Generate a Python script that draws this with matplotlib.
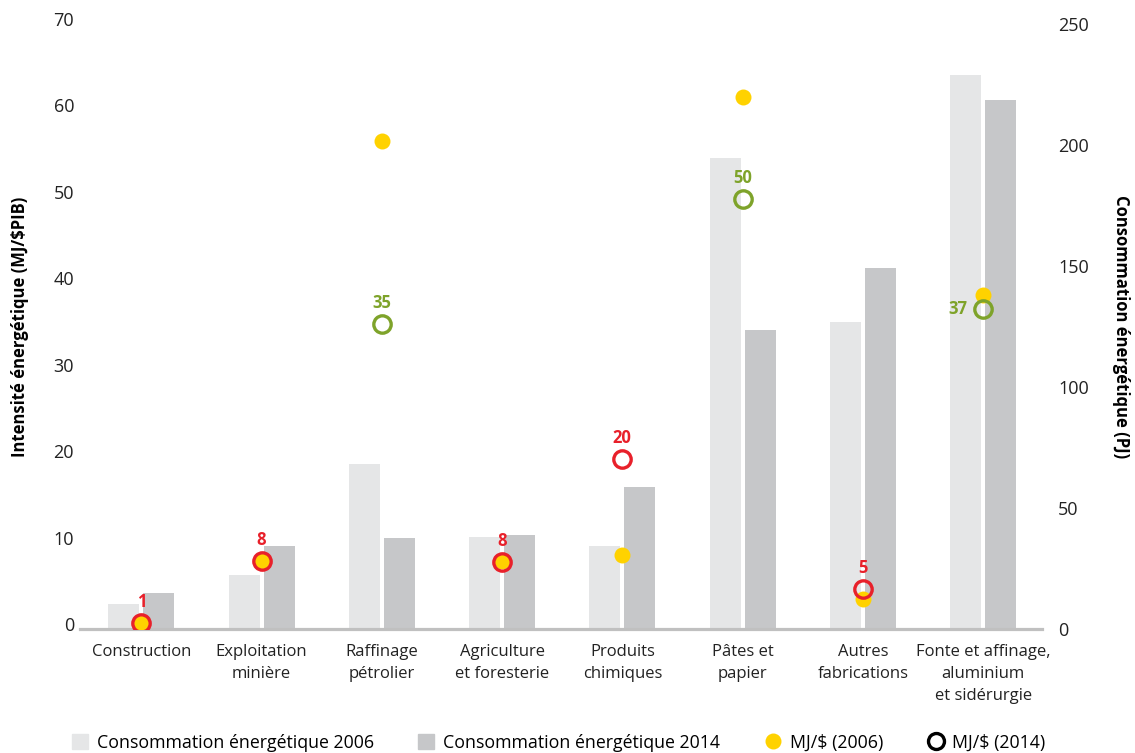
import matplotlib
matplotlib.use("Agg")
import matplotlib.pyplot as plt
import matplotlib.transforms as mtransforms
import numpy as np
from matplotlib.lines import Line2D
from matplotlib.patches import Patch

plt.rcParams['font.family'] = ['Open Sans', 'DejaVu Sans']

categories = ["Construction", "Exploitation\nminière", "Raffinage\npétrolier",
              "Agriculture\net foresterie", "Produits\nchimiques", "Pâtes et\npapier",
              "Autres\nfabrications", "Fonte et affinage,\naluminium\net sidérurgie"]
conso_2006 = [10.3, 22.4, 68.2, 38.0, 34.3, 194.6, 126.9, 228.9]
conso_2014 = [14.9, 34.3, 37.6, 38.8, 58.7, 123.6, 149.2, 218.6]
mj_2006 = [0.66, 7.9, 56.5, 7.9, 8.6, 61.6, 3.5, 38.6]
mj_2014 = [0.66, 7.9, 35.3, 7.75, 19.7, 49.8, 4.6, 37.0]
mj_2014_labels = ["1", "8", "35", "8", "20", "50", "5", "37"]
label_color = ["red", "red", "green", "red", "red", "green", "red", "green"]

C06 = "#e5e6e7"
C14 = "#c6c7c9"
YEL = "#ffd200"
RED = "#e8202a"
GRN = "#7ea32a"
cmap = {"red": RED, "green": GRN}

fig = plt.figure(figsize=(11.35, 7.53), dpi=100)
ax = fig.add_axes([80 / 1135, 1 - 629 / 753, 962 / 1135, 605 / 753])
ax2 = ax.twinx()

x = np.arange(len(categories))
w = 0.258
gap = 0.017
ax2.bar(x - w / 2 - gap, conso_2006, width=w, color=C06, zorder=1)
ax2.bar(x + w / 2 + gap, conso_2014, width=w, color=C14, zorder=1)
ax2.set_ylim(0, 250)
ax2.set_yticks([0, 50, 100, 150, 200, 250])

# points above bars
ax.set_zorder(ax2.get_zorder() + 1)
ax.patch.set_visible(False)

ax.plot(x, mj_2006, 'o', color=YEL, markersize=11.5, markeredgewidth=0, zorder=3)
for xi, v, lab, c in zip(x, mj_2014, mj_2014_labels, label_color):
    col = cmap[c]
    ax.plot(xi, v, 'o', markerfacecolor='none', markeredgecolor=col,
            markersize=12.5, markeredgewidth=2.4, zorder=4)
    if lab == "37":
        ax.annotate(lab, (xi, v), xytext=(-11.5, 0), textcoords='offset points',
                    ha='right', va='center', color=col, fontsize=12, fontweight='bold')
    else:
        ax.annotate(lab, (xi, v), xytext=(0, 15), textcoords='offset points',
                    ha='center', va='center', color=col, fontsize=12, fontweight='bold')

ax.set_ylim(0, 70)
ax.set_yticks(range(0, 71, 10))
ax.set_xlim(-0.51, 7.49)
ax.set_xticks(x)
ax.set_xticklabels(categories, fontsize=12, color="#222222", linespacing=1.5)

for a in (ax, ax2):
    for s in a.spines.values():
        s.set_visible(False)
    a.tick_params(axis='both', length=0, labelsize=13, colors="#222222")
ax.tick_params(axis='x', labelsize=12, pad=10.5)
ax.spines['bottom'].set_visible(True)
ax.spines['bottom'].set_color("#c0c0c0")
ax.spines['bottom'].set_linewidth(2.3)
ax.tick_params(axis='y', pad=4.3)
ax2.tick_params(axis='y', pad=11.5)

# left tick labels sit a few pixels higher in the reference
offset = mtransforms.ScaledTranslation(0, 5 / 100, fig.dpi_scale_trans)
for lab in ax.get_yticklabels():
    lab.set_transform(lab.get_transform() + offset)

ax.set_ylabel("Intensité énergétique (MJ/$PIB)", fontsize=12, fontweight='bold')
ax.yaxis.set_label_coords(-0.053, 0.5)
ax2.set_ylabel("Consommation énergétique (PJ)", fontsize=12, fontweight='bold',
               rotation=270, va='center')
ax2.yaxis.set_label_coords(1.082, 0.5)

handles = [Patch(color=C06), Patch(color=C14),
           Line2D([], [], marker='o', linestyle='none', color=YEL, markersize=11.5, markeredgewidth=0),
           Line2D([], [], marker='o', linestyle='none', markerfacecolor='none',
                  markeredgecolor='black', markersize=11.5, markeredgewidth=2.4)]
labels = ["Consommation énergétique 2006", "Consommation énergétique 2014",
          "MJ/$ (2006)", "MJ/$ (2014)"]
fig.legend(handles, labels, loc='center left', bbox_to_anchor=(72 / 1135, 1 - 743 / 753), ncol=4,
           frameon=False, fontsize=12.8, handlelength=0.9, handleheight=0.9,
           handletextpad=0.5, columnspacing=2.5, borderpad=0, borderaxespad=0)

fig.savefig("out.png", dpi=100)
